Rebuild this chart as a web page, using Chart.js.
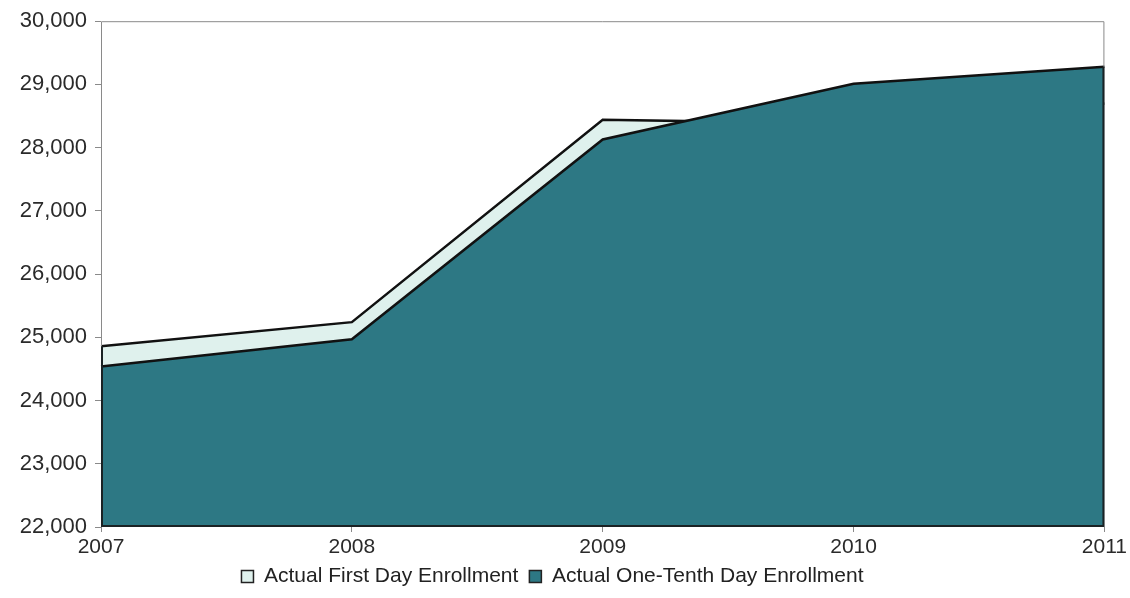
<!DOCTYPE html>
<html lang="en">
<head>
    <meta charset="UTF-8">
    <title>Enrollment</title>
    <style>
        html, body {
            margin: 0;
            padding: 0;
            background: #fff;
        }
        #wrap {
            width: 1130px;
            height: 598px;
        }
    </style>
</head>
<body>
    <div id="wrap">
        <canvas id="chart" width="1130" height="598"></canvas>
    </div>

    <script src="https://cdn.jsdelivr.net/npm/chart.js"></script>
    <script>
        const years = ['2007', '2008', '2009', '2010', '2011'];
        const firstDay = [24860, 25240, 28440, 28380, 28700];
        const oneTenth = [24540, 24970, 28130, 29010, 29280];
        const yMin = 22000;
        const yMax = 30000;
        const yStep = 1000;

        const font = "Arial, 'Liberation Sans', sans-serif";

        // frame around the plot area, dark where the areas touch it
        const frame = {
            id: 'frame',
            afterDatasetsDraw(chart) {
                const { ctx, chartArea: a } = chart;
                const y = chart.scales.y;
                ctx.save();
                ctx.lineWidth = 1;
                ctx.strokeStyle = '#8a8a8a';
                ctx.beginPath();
                ctx.moveTo(a.left + 0.5, a.bottom);
                ctx.lineTo(a.left + 0.5, a.top + 0.5);
                ctx.lineTo(a.right - 0.5, a.top + 0.5);
                ctx.lineTo(a.right - 0.5, a.bottom);
                ctx.stroke();

                const leftTop = y.getPixelForValue(Math.max(firstDay[0], oneTenth[0]));
                const last = firstDay.length - 1;
                const rightTop = y.getPixelForValue(Math.max(firstDay[last], oneTenth[last]));
                ctx.lineWidth = 2;
                ctx.strokeStyle = '#1a2224';
                ctx.beginPath();
                ctx.moveTo(a.left + 1, leftTop);
                ctx.lineTo(a.left + 1, a.bottom - 1);
                ctx.lineTo(a.right - 1, a.bottom - 1);
                ctx.lineTo(a.right - 1, rightTop);
                ctx.stroke();
                ctx.restore();
            }
        };

        new Chart(document.getElementById('chart'), {
            type: 'line',
            data: {
                labels: years,
                datasets: [
                    {
                        label: 'Actual First Day Enrollment',
                        data: firstDay,
                        backgroundColor: '#dff1ed',
                        borderColor: '#111',
                        borderWidth: 2.5,
                        fill: 'start',
                        pointRadius: 0,
                        tension: 0,
                        order: 1
                    },
                    {
                        label: 'Actual One-Tenth Day Enrollment',
                        data: oneTenth,
                        backgroundColor: '#2d7884',
                        borderColor: '#111',
                        borderWidth: 2.5,
                        fill: 'start',
                        pointRadius: 0,
                        tension: 0,
                        order: 0
                    }
                ]
            },
            options: {
                responsive: false,
                animation: false,
                layout: {
                    padding: { top: 16, right: 25, bottom: 1, left: 0 }
                },
                plugins: {
                    tooltip: { enabled: false },
                    legend: {
                        position: 'bottom',
                        labels: {
                            color: '#222',
                            font: { family: font, size: 21 },
                            boxWidth: 12,
                            boxHeight: 12,
                            padding: 11,
                            sort: (a, b) => a.datasetIndex - b.datasetIndex,
                            generateLabels(chart) {
                                const items = Chart.defaults.plugins.legend.labels.generateLabels(chart);
                                items.forEach(it => { it.lineWidth = 1.5; it.strokeStyle = '#222'; });
                                return items;
                            }
                        }
                    }
                },
                scales: {
                    x: {
                        offset: false,
                        afterFit(scale) { scale.height = 28; },
                        grid: {
                            display: true,
                            drawOnChartArea: false,
                            tickLength: 5,
                            color: '#8a8a8a'
                        },
                        border: { display: false },
                        ticks: {
                            color: '#2a2a2a',
                            padding: 3,
                            maxRotation: 0,
                            font: { family: font, size: 21 }
                        }
                    },
                    y: {
                        min: yMin,
                        max: yMax,
                        afterFit(scale) { scale.width = 101; },
                        grid: {
                            display: true,
                            drawOnChartArea: false,
                            tickLength: 6,
                            color: '#8a8a8a'
                        },
                        border: { display: false },
                        ticks: {
                            stepSize: yStep,
                            color: '#2a2a2a',
                            padding: 8,
                            font: { family: font, size: 22 },
                            callback: v => v.toLocaleString('en-US')
                        }
                    }
                }
            },
            plugins: [frame]
        });
    </script>
</body>
</html>
